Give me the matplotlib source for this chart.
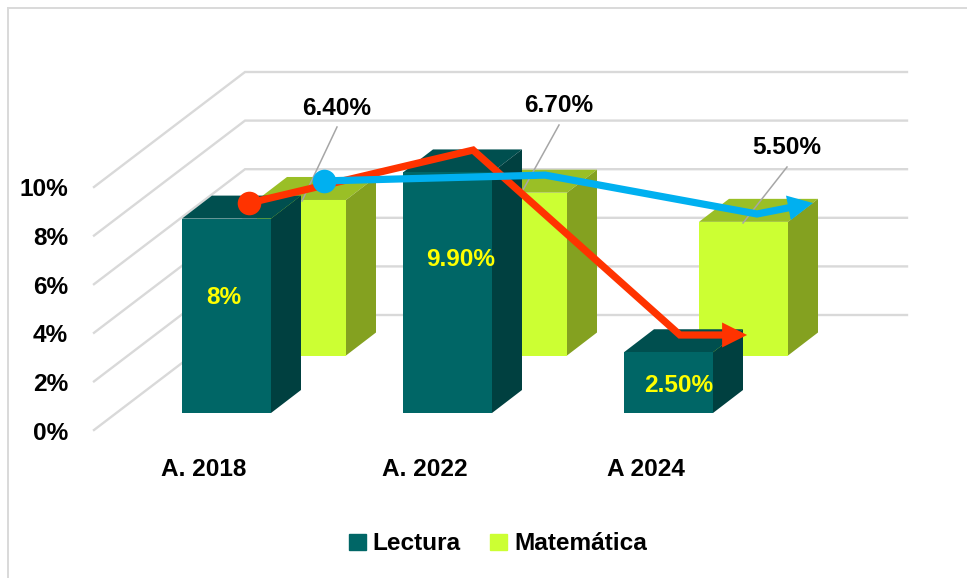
import matplotlib
matplotlib.use('Agg')
import matplotlib.pyplot as plt
from matplotlib.patches import Polygon, Patch

plt.rcParams['font.family'] = ['Liberation Sans', 'DejaVu Sans']

# data
years = ['A. 2018', 'A. 2022', 'A 2024']
lectura = [8.0, 9.9, 2.5]
matematica = [6.4, 6.7, 5.5]
lectura_labels = ['8%', '9.90%', '2.50%']
matematica_labels = ['6.40%', '6.70%', '5.50%']
y_ticks = [0, 2, 4, 6, 8, 10]

# hand drawn arrows on top of the bars (x in category units, y in percent)
orange_x = [0.303, 1.317, 2.253, 2.557]
orange_y = [8.64, 10.82, 3.21, 3.21]
blue_x = [0.643, 1.643, 2.602, 2.855]
blue_y = [9.55, 9.79, 8.19, 8.64]

W, H = 967, 578
STEP = 221.0   # px per category
UNIT = 24.3    # px per 1%
X0, Y0 = 182.0, 413.0   # px position of x=0, y=0
FONT = 17.6


def dx(px):
    return px / STEP


def dy(px):
    return px / UNIT


def to_x(px):
    return (px - X0) / STEP


def to_y(px):
    return (Y0 - px) / UNIT


fig = plt.figure(figsize=(W / 100, H / 100), dpi=100)
ax = fig.add_axes([0, 0, 1, 1])
ax.set_xlim(to_x(0), to_x(W))
ax.set_ylim(to_y(H), to_y(0))
ax.axis('off')

# outer frame of the pasted chart
ax.plot([to_x(8), to_x(8)], [to_y(H), to_y(8)], color='#D9D9D9', lw=1.4, zorder=1)
ax.plot([to_x(8), to_x(W)], [to_y(8), to_y(8)], color='#D9D9D9', lw=1.4, zorder=1)

# walls: slanted side wall and flat back wall
for v in y_ticks:
    y_front = to_y(430) + v
    ax.plot([to_x(94), to_x(245), to_x(907)],
            [y_front, y_front + dy(115), y_front + dy(115)],
            color='#D9D9D9', lw=1.7, zorder=1, solid_joinstyle='miter')
    ax.text(to_x(68), y_front - dy(3), f'{v}%', ha='right', va='center',
            fontsize=FONT, fontweight='bold', color='black')

BAR_W = dx(89)
DEPTH_X, DEPTH_Y = dx(30), dy(23)


def draw_bars(lefts, base, values, front, top, side, z):
    ax.bar(lefts, values, width=BAR_W, bottom=base, align='edge', color=front, zorder=z + 0.2)
    for left, val in zip(lefts, values):
        right = left + BAR_W
        up = base + val
        ax.add_patch(Polygon([(left, up), (right, up), (right + DEPTH_X, up + DEPTH_Y),
                              (left + DEPTH_X, up + DEPTH_Y)], closed=True, color=top, lw=0, zorder=z))
        ax.add_patch(Polygon([(right, base), (right + DEPTH_X, base + DEPTH_Y),
                              (right + DEPTH_X, up + DEPTH_Y), (right, up)], closed=True, color=side, lw=0, zorder=z))


positions = list(range(len(years)))
draw_bars([p + dx(75) for p in positions], to_y(355.5), matematica,
          '#CCFF33', '#9ABF26', '#84A120', 2)
draw_bars(positions, 0, lectura, '#006666', '#004F4F', '#004040', 3)

# gray leader lines to the outside labels
leaders = [((302, 201), (337, 127)), ((523, 190), (559, 125)), ((743, 223), (787, 167))]
for (x1, y1), (x2, y2) in leaders:
    ax.plot([to_x(x1), to_x(x2)], [to_y(y1), to_y(y2)], color='#A6A6A6', lw=1.1, zorder=4)

for (cx, cy), label in zip([(337, 109), (559, 106), (787, 148)], matematica_labels):
    ax.text(to_x(cx), to_y(cy), label, ha='center', va='center',
            fontsize=FONT, fontweight='bold', color='black', zorder=8)
for (cx, cy), label in zip([(224, 298), (461, 260), (679, 386)], lectura_labels):
    ax.text(to_x(cx), to_y(cy), label, ha='center', va='center',
            fontsize=FONT, fontweight='bold', color='#FFFF00', zorder=8)


def draw_arrow(xs, ys, color, z):
    # shaft stops inside the head so its square end does not stick out
    end_x = xs[-2] + 0.75 * (xs[-1] - xs[-2])
    end_y = ys[-2] + 0.75 * (ys[-1] - ys[-2])
    ax.plot(xs[:-1] + [end_x], ys[:-1] + [end_y], color=color, lw=5.2, zorder=z,
            solid_joinstyle='miter', solid_capstyle='butt')
    ax.annotate('', xy=(xs[-1], ys[-1]), xytext=(xs[-2], ys[-2]),
                arrowprops=dict(arrowstyle='-|>,head_length=1.8,head_width=0.9', mutation_scale=10,
                                color=color, lw=0, shrinkA=0, shrinkB=0),
                zorder=z)
    ax.plot(xs[0], ys[0], 'o', color=color, ms=17, mew=0, zorder=z)


draw_arrow(orange_x, orange_y, '#FF3300', 5)
draw_arrow(blue_x, blue_y, '#00B0F0', 6)

for p, year in zip(positions, years):
    ax.text(p + to_x(204), to_y(469), year, ha='center', va='center',
            fontsize=FONT, fontweight='bold', color='black')

handles = [Patch(color='#006666', label='Lectura'), Patch(color='#CCFF33', label='Matemática')]
ax.legend(handles=handles, loc='center', bbox_to_anchor=(498 / W, 1 - 544 / H), ncol=2,
          frameon=False, prop={'size': FONT, 'weight': 'bold'}, handlelength=0.67,
          handleheight=0.67, handletextpad=0.3, columnspacing=1.2,
          borderpad=0, borderaxespad=0)

fig.savefig('out.png', dpi=100)
